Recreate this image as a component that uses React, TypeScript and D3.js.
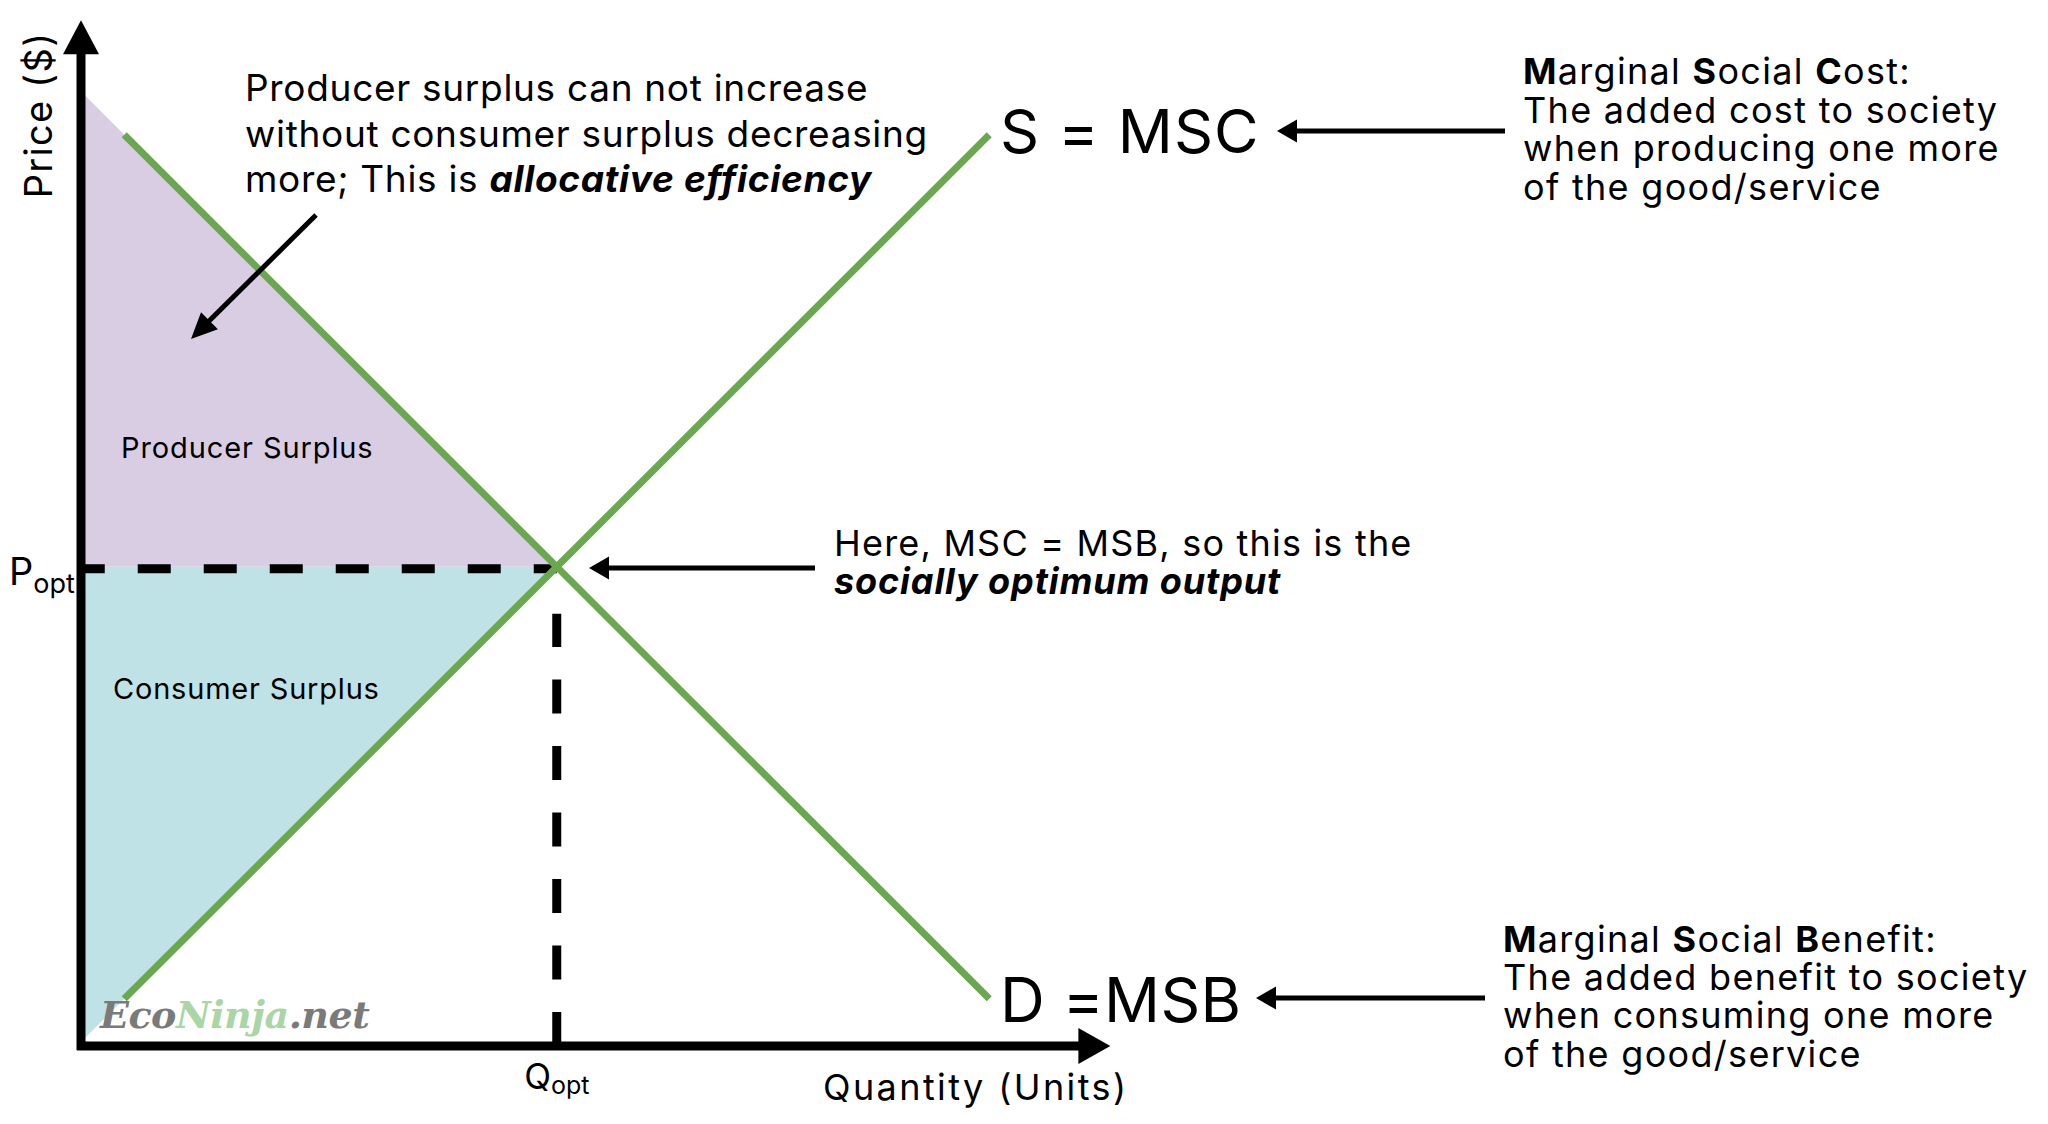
import React from 'react';
import * as d3 from 'd3';

const W = 2048;
const H = 1124;

// curve end points in chart units: [quantity, price]
const supplyPoints: [number, number][] = [[1, 1], [21, 21]];
const demandPoints: [number, number][] = [[1, 21], [21, 1]];
const optimum: [number, number] = [11, 11];
// where each curve, extended, meets the price axis
const demandIntercept = 22;
const supplyIntercept = 0;
const axisEnd = { q: 23.8, p: 23.65 };

const topNote = ['Producer surplus can not increase', 'without consumer surplus decreasing', 'more; This is '];
const topNoteBold = 'allocative efficiency';
const mscLines = ['The added cost to society', 'when producing one more', 'of the good/service'];
const msbLines = ['The added benefit to society', 'when consuming one more', 'of the good/service'];

const GREEN = '#6aa84f';
const PURPLE = '#d9cde3';
const BLUE = '#bee2e5';
const FONT = 'Inter, "Noto Sans", sans-serif';

const x = d3.scaleLinear().domain([0, 24]).range([81, 81 + 24 * 43.25]);
const y = d3.scaleLinear().domain([0, 24]).range([1042, 1042 - 24 * 43.2]);

const line = d3.line<[number, number]>().x(d => x(d[0])).y(d => y(d[1]));

const Arrow: React.FC<{ x1: number; y1: number; x2: number; y2: number; head?: number; width?: number; sw?: number }> = ({
  x1, y1, x2, y2, head = 22, width = 24, sw = 5,
}) => {
  // arrow pointing from (x1,y1) to (x2,y2)
  const ang = Math.atan2(y2 - y1, x2 - x1);
  const bx = x2 - Math.cos(ang) * head;
  const by = y2 - Math.sin(ang) * head;
  const nx = -Math.sin(ang) * (width / 2);
  const ny = Math.cos(ang) * (width / 2);
  return (
    <g>
      <line x1={x1} y1={y1} x2={bx + Math.cos(ang) * 2} y2={by + Math.sin(ang) * 2} stroke="#000" strokeWidth={sw} />
      <polygon points={`${x2},${y2} ${bx + nx},${by + ny} ${bx - nx},${by - ny}`} fill="#000" />
    </g>
  );
};

export default function App() {
  const [oq, op] = optimum;
  const producerArea: [number, number][] = [[0, demandIntercept], [oq, op], [0, op]];
  const consumerArea: [number, number][] = [[0, op], [oq, op], [0, supplyIntercept]];
  const xAxisY = y(0) + 4;

  return (
    <svg width={W} height={H} style={{ position: 'absolute', left: 0, top: 0, background: '#fff' }} fontFamily={FONT}>
      <rect width={W} height={H} fill="#fff" />

      {/* surplus areas */}
      <path d={line(producerArea)! + 'Z'} fill={PURPLE} />
      <path d={line(consumerArea)! + 'Z'} fill={BLUE} />

      {/* dashed guides */}
      <line x1={x(oq)} y1={y(op) + 2} x2={x(0)} y2={y(op) + 2} stroke="#000" strokeWidth={9} strokeDasharray="33 33" strokeDashoffset={10} />
      <line x1={x(oq)} y1={xAxisY} x2={x(oq)} y2={y(op) + 47} stroke="#000" strokeWidth={9} strokeDasharray="34 32.5" />

      {/* curves */}
      <path d={line(supplyPoints)!} stroke={GREEN} strokeWidth={7} fill="none" />
      <path d={line(demandPoints)!} stroke={GREEN} strokeWidth={7} fill="none" />

      {/* axes */}
      <line x1={x(0)} y1={xAxisY + 4} x2={x(0)} y2={y(axisEnd.p) + 30} stroke="#000" strokeWidth={9} />
      <polygon points={`${x(0)},${y(axisEnd.p)} ${x(0) - 18},${y(axisEnd.p) + 34} ${x(0) + 18},${y(axisEnd.p) + 34}`} fill="#000" />
      <line x1={x(0) - 4} y1={xAxisY} x2={x(axisEnd.q) - 30} y2={xAxisY} stroke="#000" strokeWidth={9} />
      <polygon points={`${x(axisEnd.q)},${xAxisY} ${x(axisEnd.q) - 32},${xAxisY - 18} ${x(axisEnd.q) - 32},${xAxisY + 18}`} fill="#000" />

      {/* axis titles */}
      <text transform="translate(52,115) rotate(-90)" textAnchor="middle" fontSize={38} letterSpacing={1.3}>Price ($)</text>
      <text x={823} y={1100} fontSize={36} letterSpacing={2.4}>Quantity (Units)</text>

      {/* optimum labels */}
      <text x={9} y={585} fontSize={38}>P<tspan fontSize={27} dy={8}>opt</tspan></text>
      <text x={x(oq)} y={1089} fontSize={35} textAnchor="middle">Q<tspan fontSize={25} dy={5}>opt</tspan></text>

      {/* area labels */}
      <text x={121} y={458} fontSize={29} letterSpacing={0.9}>Producer Surplus</text>
      <text x={113} y={699} fontSize={29} letterSpacing={0.8}>Consumer Surplus</text>

      {/* top note */}
      <text fontSize={37} letterSpacing={0.7}>
        {topNote.map((t, i) => (
          <tspan key={i} x={245} y={101 + i * 45.5}>
            {t}
            {i === topNote.length - 1 && <tspan fontWeight={700} fontStyle="italic">{topNoteBold}</tspan>}
          </tspan>
        ))}
      </text>
      <Arrow x1={316} y1={215} x2={191} y2={339} head={26} width={24} />

      {/* curve labels */}
      <text x={1000} y={153} fontSize={61} letterSpacing={1}>S = MSC</text>
      <Arrow x1={1505} y1={131} x2={1277} y2={131} head={20} width={23} />
      <text x={1000} y={1022} fontSize={62} letterSpacing={0.3}>D =MSB</text>
      <Arrow x1={1485} y1={998} x2={1256} y2={998} head={20} width={23} />

      {/* optimum note */}
      <text x={834} y={556} fontSize={36} letterSpacing={1.2}>Here, MSC = MSB, so this is the</text>
      <text x={834} y={594} fontSize={36} letterSpacing={0.9} fontWeight={700} fontStyle="italic">socially optimum output</text>
      <Arrow x1={815} y1={568} x2={589} y2={568} head={20} width={23} />

      {/* definitions */}
      <text fontSize={36} letterSpacing={1.3}>
        <tspan x={1523} y={84}><tspan fontWeight={700}>M</tspan>arginal <tspan fontWeight={700}>S</tspan>ocial <tspan fontWeight={700}>C</tspan>ost:</tspan>
        {mscLines.map((t, i) => (
          <tspan key={i} x={1523} y={123 + i * 38.3}>{t}</tspan>
        ))}
      </text>
      <text fontSize={36} letterSpacing={1.3}>
        <tspan x={1503} y={952}><tspan fontWeight={700}>M</tspan>arginal <tspan fontWeight={700}>S</tspan>ocial <tspan fontWeight={700}>B</tspan>enefit:</tspan>
        {msbLines.map((t, i) => (
          <tspan key={i} x={1503} y={990 + i * 38.3}>{t}</tspan>
        ))}
      </text>

      {/* watermark */}
      <text x={100} y={1028} fontSize={38} fontWeight={700} fontStyle="italic" fontFamily='"DejaVu Serif", serif' letterSpacing={-0.5}>
        <tspan fill="#7a7a7a">Eco</tspan>
        <tspan fill="#a9d6a4">Ninja</tspan>
        <tspan fill="#7a7a7a">.net</tspan>
      </text>
    </svg>
  );
}
